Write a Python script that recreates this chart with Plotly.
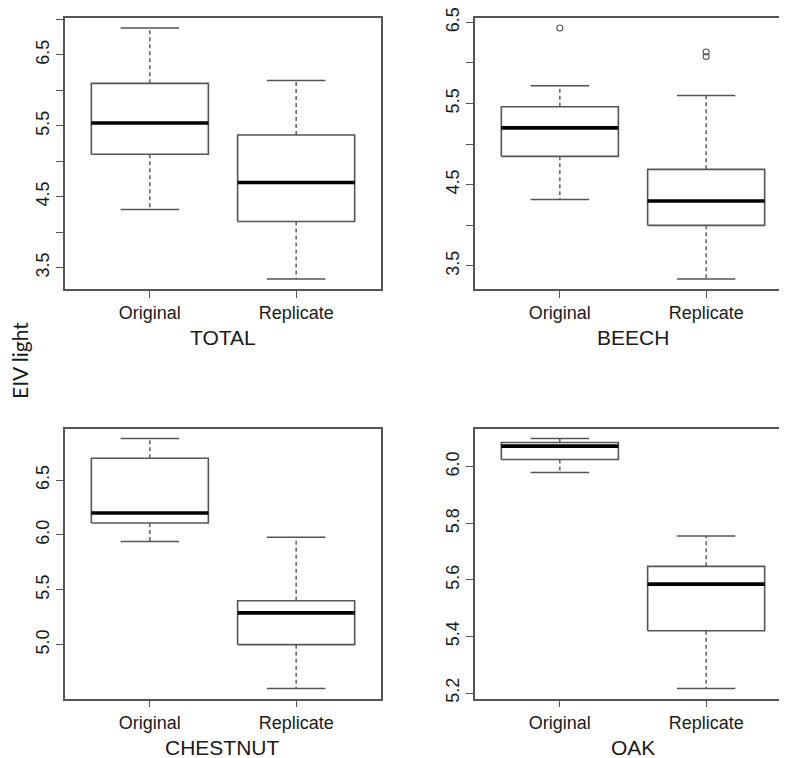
import plotly.graph_objects as go

# ---- data ----
panels = ["TOTAL", "BEECH", "CHESTNUT", "OAK"]
groups = ["Original", "Replicate"]

# five-number summaries: [lower whisker, Q1, median, Q3, upper whisker]
total_original = [4.32, 5.10, 5.54, 6.10, 6.88]
total_replicate = [3.34, 4.15, 4.70, 5.37, 6.14]
beech_original = [4.32, 4.85, 5.20, 5.46, 5.72]
beech_replicate = [3.34, 4.00, 4.30, 4.69, 5.60]
chestnut_original = [5.94, 6.11, 6.20, 6.70, 6.88]
chestnut_replicate = [4.60, 5.00, 5.29, 5.40, 5.98]
oak_original = [5.98, 6.026, 6.073, 6.086, 6.10]
oak_replicate = [5.216, 5.42, 5.585, 5.648, 5.755]

# outliers
beech_original_out = [6.43]
beech_replicate_out = [6.135, 6.08]

# y tick values and labels
total_ticks = [3.5, 4.0, 4.5, 5.0, 5.5, 6.0, 6.5, 7.0]
total_labels = ["3.5", "", "4.5", "", "5.5", "", "6.5", ""]
beech_ticks = [3.5, 4.0, 4.5, 5.0, 5.5, 6.0, 6.5]
beech_labels = ["3.5", "", "4.5", "", "5.5", "", "6.5"]
chestnut_ticks = [5.0, 5.5, 6.0, 6.5]
chestnut_labels = ["5.0", "5.5", "6.0", "6.5"]
oak_ticks = [5.2, 5.4, 5.6, 5.8, 6.0]
oak_labels = ["5.2", "5.4", "5.6", "5.8", "6.0"]

y_label = "EIV light"

# ---- assembly ----
summaries = {
    "TOTAL": [total_original, total_replicate],
    "BEECH": [beech_original, beech_replicate],
    "CHESTNUT": [chestnut_original, chestnut_replicate],
    "OAK": [oak_original, oak_replicate],
}
outliers = {
    "TOTAL": [[], []],
    "BEECH": [beech_original_out, beech_replicate_out],
    "CHESTNUT": [[], []],
    "OAK": [[], []],
}
ticks = {
    "TOTAL": (total_ticks, total_labels),
    "BEECH": (beech_ticks, beech_labels),
    "CHESTNUT": (chestnut_ticks, chestnut_labels),
    "OAK": (oak_ticks, oak_labels),
}

# page body has an 8px margin: the figure is sized to fill the rest of the window
OFF = 8
W, H = 787 - OFF, 758 - OFF


def fx(px):  # window pixel -> paper fraction
    return (px - OFF) / W


def fy(py):
    return 1 - (py - OFF) / H


# plot-area pixel boxes in window coords (left, right, top, bottom)
boxes = {
    "TOTAL": (65, 381, 18, 289),
    "BEECH": (475, 787, 18, 289),
    "CHESTNUT": (65, 381, 428.5, 698.5),
    "OAK": (475, 787, 428.5, 698.5),
}

LINE = "#555555"
TEXT = "#1a1a1a"
FONT = "Liberation Sans, Arial, sans-serif"
BOXW = 0.8
CAPW = 0.4

fig = go.Figure()
layout = {}

for k, name in enumerate(panels):
    ax = "" if k == 0 else str(k + 1)
    xref, yref = "x" + ax, "y" + ax
    summ = summaries[name]
    allvals = [v for s in summ for v in s] + [v for o in outliers[name] for v in o]
    lo, hi = min(allvals), max(allvals)
    pad = 0.04 * (hi - lo)
    yr = [lo - pad, hi + pad]

    l, r, t, b = boxes[name]
    right_panel = name in ("BEECH", "OAK")
    xr = [0.42, 2.58]
    if right_panel:
        px_per_unit = (381 - 65) / (xr[1] - xr[0])
        xr = [0.42, 0.42 + (r - l) / px_per_unit]

    for i, g in enumerate(groups):
        xc = i + 1
        lw, q1, med, q3, uw = summ[i]
        fig.add_trace(go.Scatter(
            x=[xc - BOXW / 2, xc + BOXW / 2, xc + BOXW / 2, xc - BOXW / 2, xc - BOXW / 2],
            y=[q1, q1, q3, q3, q1], mode="lines",
            line=dict(color=LINE, width=1.6), fill="toself", fillcolor="white",
            xaxis=xref, yaxis=yref, showlegend=False, hoverinfo="skip"))
        fig.add_trace(go.Scatter(
            x=[xc, xc, None, xc, xc], y=[q3, uw, None, q1, lw], mode="lines",
            line=dict(color=LINE, width=1.4, dash="4px,3px"),
            xaxis=xref, yaxis=yref, showlegend=False, hoverinfo="skip"))
        fig.add_trace(go.Scatter(
            x=[xc - CAPW / 2, xc + CAPW / 2, None, xc - CAPW / 2, xc + CAPW / 2],
            y=[uw, uw, None, lw, lw], mode="lines",
            line=dict(color=LINE, width=1.5),
            xaxis=xref, yaxis=yref, showlegend=False, hoverinfo="skip"))
        fig.add_trace(go.Scatter(
            x=[xc - BOXW / 2, xc + BOXW / 2], y=[med, med], mode="lines",
            line=dict(color="black", width=3.6),
            xaxis=xref, yaxis=yref, showlegend=False, hoverinfo="skip"))
        if outliers[name][i]:
            fig.add_trace(go.Scatter(
                x=[xc] * len(outliers[name][i]), y=outliers[name][i], mode="markers",
                marker=dict(symbol="circle-open", size=6, color=LINE, line=dict(width=1.1)),
                xaxis=xref, yaxis=yref, showlegend=False, hoverinfo="skip"))

    tv, tt = ticks[name]
    layout["xaxis" + ax] = dict(
        domain=[fx(l), min(1.0, fx(r))], range=xr, anchor=yref, automargin=False,
        tickmode="array", tickvals=[1, 2], ticktext=groups,
        ticks="outside", ticklen=7, tickwidth=1.3, tickcolor=LINE,
        showline=True, linecolor=LINE, linewidth=1.6, mirror=True,
        showgrid=False, zeroline=False, ticklabeloverflow="allow",
        tickfont=dict(family=FONT, size=18, color=TEXT),
    )
    layout["yaxis" + ax] = dict(
        domain=[fy(b), fy(t)], range=yr, anchor=xref, automargin=False,
        tickmode="array", tickvals=tv, ticktext=tt, tickangle=-90,
        ticks="outside", ticklen=7, tickwidth=1.3, tickcolor=LINE,
        showline=True, linecolor=LINE, linewidth=1.6, mirror=not right_panel,
        showgrid=False, zeroline=False, ticklabeloverflow="allow",
        tickfont=dict(family=FONT, size=18, color=TEXT),
    )

annotations = []
title_pos = {"TOTAL": (223, 337), "BEECH": (633, 337), "CHESTNUT": (223, 747), "OAK": (633, 747)}
for name in panels:
    px, py = title_pos[name]
    annotations.append(dict(
        text=name, x=fx(px), y=fy(py), xref="paper", yref="paper",
        xanchor="center", yanchor="middle", showarrow=False,
        font=dict(family=FONT, size=21, color=TEXT)))
annotations.append(dict(
    text=y_label, x=fx(19), y=fy(361), xref="paper", yref="paper",
    xanchor="center", yanchor="middle", showarrow=False, textangle=-90,
    font=dict(family="Lato, Open Sans, sans-serif", size=21, color=TEXT)))

fig.update_layout(
    width=W, height=H, margin=dict(l=0, r=0, t=0, b=0, autoexpand=False),
    paper_bgcolor="white", plot_bgcolor="white",
    showlegend=False, annotations=annotations, **layout)

fig.write_html("out.html")
